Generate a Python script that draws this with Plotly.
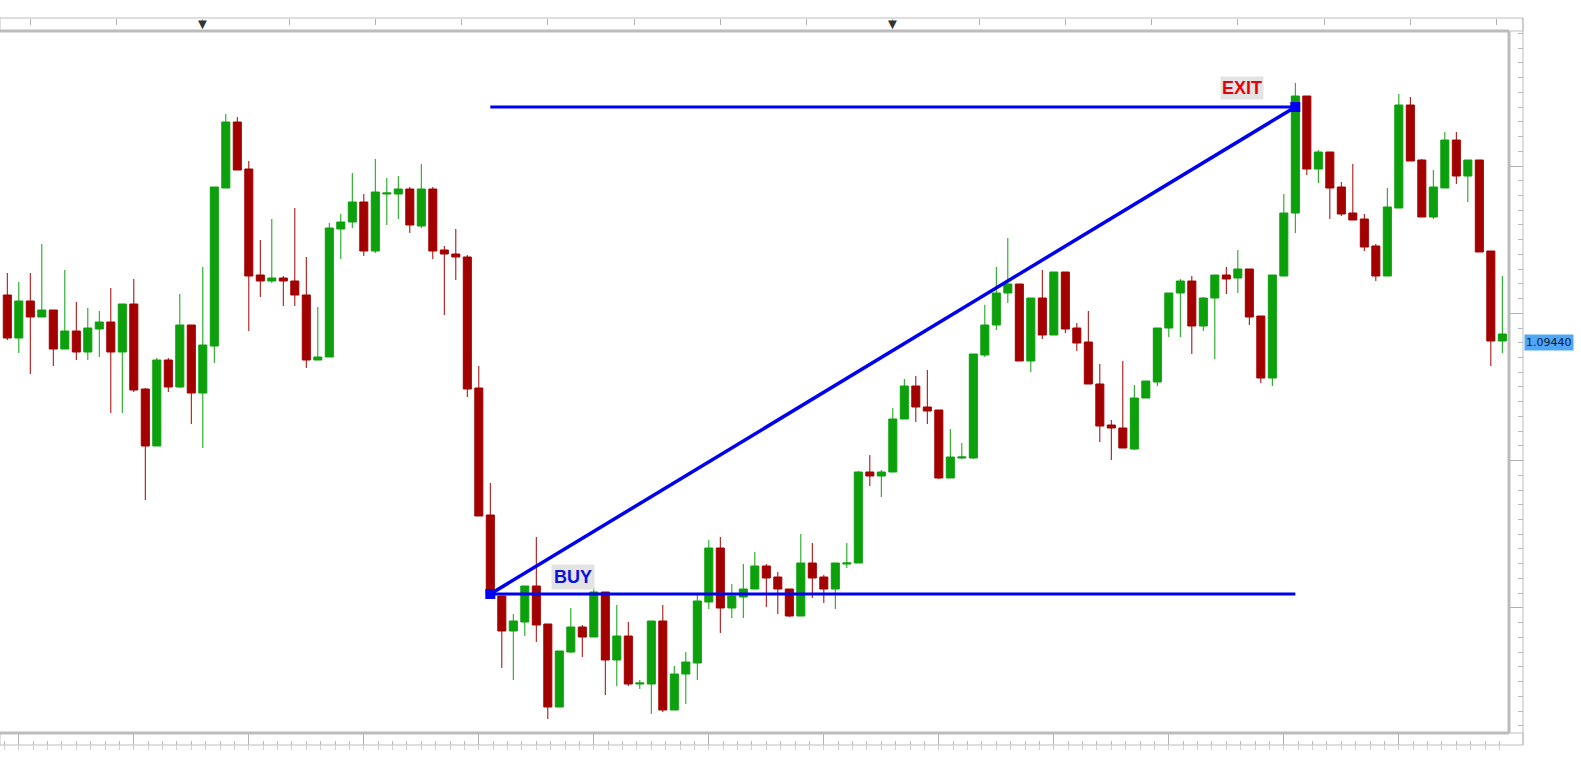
import plotly.graph_objects as go

# ---------------- data (EURUSD style bars) ----------------
opens = [1.09487, 1.09444, 1.09481, 1.09465, 1.09472, 1.09433, 1.09451, 1.09430, 1.09453, 1.09460,
         1.09430, 1.09478, 1.09393, 1.09336, 1.09422, 1.09395, 1.09457, 1.09389, 1.09436, 1.09594,
         1.09660, 1.09613, 1.09507, 1.09501, 1.09504, 1.09501, 1.09487, 1.09422, 1.09425, 1.09553,
         1.09560, 1.09580, 1.09531, 1.09588, 1.09588, 1.09593, 1.09556, 1.09593, 1.09532, 1.09528,
         1.09525, 1.09394, 1.09267, 1.09186, 1.09151, 1.09160, 1.09196, 1.09158, 1.09075, 1.09130,
         1.09155, 1.09145, 1.09190, 1.09122, 1.09146, 1.09098, 1.09098, 1.09161, 1.09072, 1.09108,
         1.09119, 1.09180, 1.09234, 1.09174, 1.09185, 1.09193, 1.09216, 1.09205, 1.09193, 1.09166,
         1.09219, 1.09205, 1.09193, 1.09218, 1.09219, 1.09310, 1.09306, 1.09310, 1.09363, 1.09396,
         1.09375, 1.09372, 1.09304, 1.09324, 1.09324, 1.09427, 1.09457, 1.09489, 1.09498, 1.09421,
         1.09484, 1.09447, 1.09510, 1.09454, 1.09440, 1.09398, 1.09357, 1.09354, 1.09333, 1.09384,
         1.09400, 1.09454, 1.09489, 1.09501, 1.09456, 1.09484, 1.09507, 1.09504, 1.09513, 1.09466,
         1.09404, 1.09506, 1.09569, 1.09686, 1.09613, 1.09630, 1.09595, 1.09569, 1.09563, 1.09536,
         1.09506, 1.09574, 1.09677, 1.09622, 1.09565, 1.09594, 1.09642, 1.09606, 1.09622, 1.09531,
         1.09441]

highs = [1.09509, 1.09500, 1.09509, 1.09538, 1.09472, 1.09512, 1.09480, 1.09474, 1.09471, 1.09494,
         1.09478, 1.09503, 1.09394, 1.09424, 1.09424, 1.09488, 1.09457, 1.09515, 1.09595, 1.09668,
         1.09665, 1.09621, 1.09542, 1.09563, 1.09506, 1.09574, 1.09525, 1.09475, 1.09559, 1.09568,
         1.09609, 1.09588, 1.09623, 1.09604, 1.09606, 1.09595, 1.09618, 1.09595, 1.09536, 1.09553,
         1.09527, 1.09416, 1.09299, 1.09186, 1.09168, 1.09196, 1.09245, 1.09158, 1.09131, 1.09174,
         1.09157, 1.09195, 1.09190, 1.09177, 1.09160, 1.09102, 1.09161, 1.09177, 1.09116, 1.09130,
         1.09189, 1.09242, 1.09245, 1.09198, 1.09218, 1.09230, 1.09218, 1.09210, 1.09193, 1.09248,
         1.09239, 1.09207, 1.09219, 1.09239, 1.09311, 1.09327, 1.09312, 1.09374, 1.09403, 1.09406,
         1.09412, 1.09372, 1.09353, 1.09339, 1.09428, 1.09477, 1.09515, 1.09544, 1.09498, 1.09484,
         1.09512, 1.09510, 1.09510, 1.09459, 1.09471, 1.09418, 1.09362, 1.09421, 1.09397, 1.09401,
         1.09454, 1.09489, 1.09503, 1.09506, 1.09485, 1.09507, 1.09515, 1.09532, 1.09513, 1.09466,
         1.09507, 1.09588, 1.09699, 1.09686, 1.09632, 1.09630, 1.09600, 1.09618, 1.09568, 1.09538,
         1.09594, 1.09688, 1.09685, 1.09623, 1.09612, 1.09650, 1.09650, 1.09622, 1.09622, 1.09531,
         1.09506]

lows = [1.09442, 1.09429, 1.09408, 1.09465, 1.09416, 1.09433, 1.09422, 1.09422, 1.09425, 1.09369,
        1.09369, 1.09390, 1.09282, 1.09336, 1.09390, 1.09394, 1.09358, 1.09334, 1.09419, 1.09594,
        1.09612, 1.09451, 1.09485, 1.09499, 1.09476, 1.09476, 1.09414, 1.09422, 1.09425, 1.09523,
        1.09554, 1.09526, 1.09529, 1.09557, 1.09563, 1.09549, 1.09554, 1.09523, 1.09467, 1.09502,
        1.09385, 1.09266, 1.09188, 1.09114, 1.09102, 1.09146, 1.09140, 1.09063, 1.09075, 1.09129,
        1.09125, 1.09145, 1.09087, 1.09096, 1.09096, 1.09093, 1.09068, 1.09070, 1.09072, 1.09078,
        1.09102, 1.09173, 1.09149, 1.09164, 1.09164, 1.09193, 1.09175, 1.09168, 1.09165, 1.09166,
        1.09184, 1.09179, 1.09173, 1.09214, 1.09219, 1.09296, 1.09285, 1.09310, 1.09363, 1.09360,
        1.09358, 1.09303, 1.09304, 1.09323, 1.09323, 1.09425, 1.09452, 1.09479, 1.09421, 1.09410,
        1.09443, 1.09447, 1.09449, 1.09431, 1.09398, 1.09340, 1.09322, 1.09334, 1.09332, 1.09384,
        1.09396, 1.09445, 1.09445, 1.09428, 1.09451, 1.09423, 1.09488, 1.09489, 1.09457, 1.09399,
        1.09396, 1.09506, 1.09549, 1.09607, 1.09599, 1.09563, 1.09566, 1.09562, 1.09531, 1.09501,
        1.09506, 1.09574, 1.09621, 1.09565, 1.09563, 1.09594, 1.09598, 1.09580, 1.09530, 1.09416,
        1.09429]

closes = [1.09444, 1.09481, 1.09465, 1.09472, 1.09433, 1.09451, 1.09430, 1.09454, 1.09460, 1.09430,
          1.09478, 1.09392, 1.09336, 1.09422, 1.09395, 1.09457, 1.09389, 1.09437, 1.09595, 1.09660,
          1.09612, 1.09506, 1.09501, 1.09504, 1.09501, 1.09487, 1.09422, 1.09425, 1.09554, 1.09560,
          1.09580, 1.09531, 1.09590, 1.09589, 1.09593, 1.09557, 1.09593, 1.09531, 1.09528, 1.09525,
          1.09393, 1.09266, 1.09188, 1.09151, 1.09161, 1.09196, 1.09157, 1.09075, 1.09131, 1.09155,
          1.09145, 1.09190, 1.09122, 1.09146, 1.09098, 1.09099, 1.09161, 1.09072, 1.09108, 1.09120,
          1.09181, 1.09234, 1.09174, 1.09186, 1.09193, 1.09216, 1.09204, 1.09193, 1.09166, 1.09219,
          1.09204, 1.09193, 1.09219, 1.09219, 1.09310, 1.09306, 1.09310, 1.09363, 1.09396, 1.09375,
          1.09371, 1.09304, 1.09325, 1.09325, 1.09428, 1.09457, 1.09489, 1.09498, 1.09421, 1.09484,
          1.09447, 1.09510, 1.09453, 1.09439, 1.09398, 1.09356, 1.09354, 1.09334, 1.09384, 1.09401,
          1.09454, 1.09489, 1.09501, 1.09456, 1.09484, 1.09507, 1.09503, 1.09513, 1.09465, 1.09404,
          1.09507, 1.09569, 1.09686, 1.09613, 1.09630, 1.09594, 1.09568, 1.09562, 1.09535, 1.09506,
          1.09575, 1.09677, 1.09621, 1.09565, 1.09595, 1.09642, 1.09606, 1.09622, 1.09530, 1.09441,
          1.09448]

bars = list(range(len(closes)))

buy_bar, buy_price = 42, 1.09188
exit_bar, exit_price = 112, 1.09675
buy_label_pos = (49.15, 1.09205)
exit_label_pos = (107.4, 1.09694)
last_price_text = "1.09440"
last_price = 1.09440
marker_bars = [17, 77]

# ---------------- styling ----------------
GREEN = "#0ca00c"
RED = "#a30000"
BLUE = "#0000f0"
FRAME = "#bcbcbc"

fig = go.Figure()

fig.add_trace(go.Candlestick(
    x=bars, open=opens, high=highs, low=lows, close=closes,
    increasing=dict(line=dict(color=GREEN, width=1), fillcolor=GREEN),
    decreasing=dict(line=dict(color=RED, width=1), fillcolor=RED),
    whiskerwidth=0, showlegend=False, hoverinfo="skip",
))

# trade lines
fig.add_trace(go.Scatter(x=[buy_bar, exit_bar], y=[exit_price, exit_price], mode="lines",
                         line=dict(color=BLUE, width=3), showlegend=False, hoverinfo="skip"))
fig.add_trace(go.Scatter(x=[buy_bar, exit_bar], y=[buy_price, buy_price], mode="lines",
                         line=dict(color=BLUE, width=3), showlegend=False, hoverinfo="skip"))
fig.add_trace(go.Scatter(x=[buy_bar, exit_bar], y=[buy_price, exit_price], mode="lines+markers",
                         line=dict(color=BLUE, width=3.5),
                         marker=dict(symbol="square", size=10, color=BLUE),
                         showlegend=False, hoverinfo="skip"))

# invisible helpers so that the strip axes are drawn
for ax in ["x2", "x3", "x4"]:
    fig.add_trace(go.Scatter(x=bars, y=closes, xaxis=ax, yaxis="y", mode="lines",
                             line=dict(width=0), opacity=0, showlegend=False, hoverinfo="skip"))

XR = [-0.635, 130.58]
YR = [1.09049, 1.09751]
XD = [0, 1509 / 1523]
YD = [(745 - 733) / 727, (745 - 31) / 727]

common_x = dict(range=XR, domain=XD, showticklabels=False, showgrid=False, zeroline=False,
                showline=False, fixedrange=True)

fig.update_layout(
    width=1581, height=771,
    margin=dict(l=0, r=58, t=18, b=26),
    paper_bgcolor="white", plot_bgcolor="white",
    boxgap=0.3, boxgroupgap=0,
    xaxis=dict(**common_x, anchor="y", ticks="", rangeslider=dict(visible=False)),
    xaxis2=dict(**common_x, overlaying="x", anchor="free", position=0, side="bottom",
                ticks="inside", ticklen=12, tickcolor="#b0b0b0", tickwidth=1, tick0=1, dtick=10,
                minor=dict(ticks="inside", ticklen=4, tickcolor="#b8b8b8", tick0=1, dtick=1.25)),
    xaxis4=dict(**common_x, overlaying="x", anchor="free", position=0, side="bottom",
                ticks="outside", ticklen=4, tickcolor="#d0d0d0", tickwidth=1, tick0=1, dtick=1.25),
    xaxis3=dict(**common_x, overlaying="x", anchor="free", position=1, side="top",
                ticks="inside", ticklen=6, tickcolor="#b0b0b0", tickwidth=1, tick0=2, dtick=7.5),
    yaxis=dict(range=YR, domain=YD, anchor="free", position=1, side="right",
               showticklabels=False, showgrid=False, zeroline=False, showline=False,
               ticks="inside", ticklen=14, tickcolor="#b0b0b0", tickwidth=1,
               tick0=1.094687, dtick=0.001473,
               minor=dict(ticks="inside", ticklen=5, tickcolor="#b8b8b8",
                          tick0=1.094687, dtick=0.0001473),
               fixedrange=True),
    showlegend=False,
)

px_x = lambda X: X / 1523
px_y = lambda Y: (745 - Y) / 727

shapes = [
    dict(type="rect", xref="paper", yref="paper", x0=0, x1=1, y0=px_y(31), y1=1,
         line=dict(color="#bdbdbd", width=1)),
    dict(type="rect", xref="paper", yref="paper", x0=0, x1=1, y0=0, y1=px_y(733),
         line=dict(color="#bdbdbd", width=1)),
    dict(type="line", xref="paper", yref="paper", x0=1, x1=1, y0=0, y1=1,
         line=dict(color="#bdbdbd", width=1)),
    dict(type="line", xref="paper", yref="paper", x0=0, x1=px_x(1509), y0=px_y(31), y1=px_y(31),
         line=dict(color=FRAME, width=3)),
    dict(type="line", xref="paper", yref="paper", x0=px_x(1509), x1=px_x(1509), y0=px_y(31), y1=px_y(733),
         line=dict(color=FRAME, width=3)),
    dict(type="line", xref="paper", yref="paper", x0=0, x1=px_x(1509), y0=px_y(733), y1=px_y(733),
         line=dict(color=FRAME, width=3)),
]
fig.update_layout(shapes=shapes)

annotations = [
    dict(x=buy_label_pos[0], y=buy_label_pos[1], xref="x", yref="y", text="<b>BUY</b>",
         showarrow=False, font=dict(family="Liberation Sans, Arial", size=18, color="#0a12d8"),
         bgcolor="#e3e3e3", borderpad=2),
    dict(x=exit_label_pos[0], y=exit_label_pos[1], xref="x", yref="y", text="<b>EXIT</b>",
         showarrow=False, font=dict(family="Liberation Sans, Arial", size=18, color="#e6000a"),
         bgcolor="#e3e3e3", borderpad=1),
    dict(x=1524 / 1523, y=last_price, xref="paper", yref="y", text=last_price_text,
         showarrow=False, xanchor="left", font=dict(family="DejaVu Sans", size=11, color="#0c1836"),
         bgcolor="#4fa7f6", borderpad=1),
]
for b in marker_bars:
    annotations.append(dict(x=b, y=px_y(22.5), xref="x", yref="paper", yanchor="middle",
                            text="▼", showarrow=False, font=dict(size=15, color="#333333")))
fig.update_layout(annotations=annotations)

fig.write_html("out.html", config={"displayModeBar": False},
               post_script="document.body.style.margin='0';")
